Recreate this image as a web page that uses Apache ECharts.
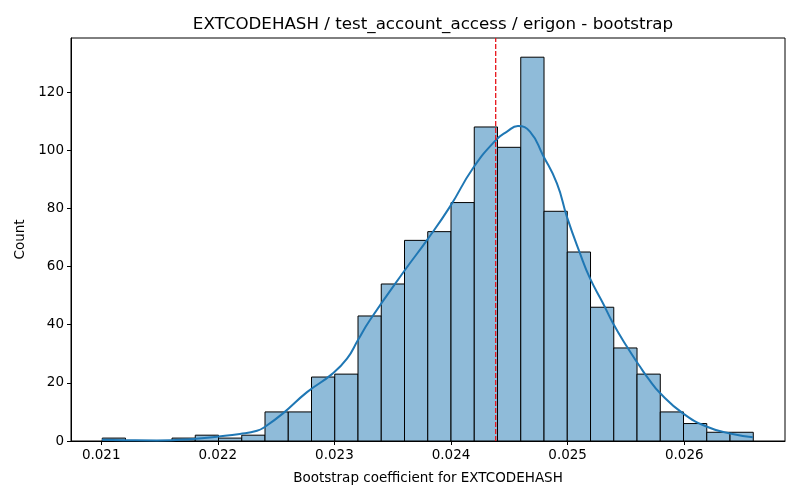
<!DOCTYPE html>
<html>
<head>
<meta charset="utf-8">
<script src="https://cdn.jsdelivr.net/npm/echarts@6/dist/echarts.min.js"></script>
<style>
  html, body { margin: 0; padding: 0; background: #fff; }
  #chart { width: 800px; height: 500px; }
</style>
</head>
<body>
<div id="chart"></div>
<script>
// histogram: 28 equal bins
const binStart = 0.021009;
const binWidth = 0.00019939;
const counts = [1, 0, 0, 1, 2, 1, 2, 10, 10, 22, 23, 43, 54, 69, 72, 82, 108, 101, 132, 79, 65, 46, 32, 23, 10, 6, 3, 3];

// kde curve
const kdeX = [0.021007, 0.021187, 0.021478, 0.021761, 0.021993, 0.022190, 0.022336, 0.022405, 0.022559, 0.022765,
  0.022979, 0.023108, 0.023202, 0.023305, 0.023605, 0.023794, 0.023991, 0.024188, 0.024385, 0.024480,
  0.024574, 0.024677, 0.024788, 0.024908, 0.024994, 0.025106, 0.025191, 0.025303, 0.025389, 0.025509,
  0.025620, 0.025689, 0.025792, 0.025989, 0.026195, 0.026392, 0.026589];
const kdeY = [0.4, 0.3, 0.2, 0.6, 1.5, 2.4, 3.5, 4.9, 9.5, 16.8,
  23.0, 28.3, 34.7, 41.6, 58.8, 69.1, 80.6, 93.8, 103.5, 106.4,
  108.3, 106.4, 98.3, 88.6, 77.1, 64.5, 56, 47.4, 40.5, 32.4,
  25.6, 21.6, 16.5, 9.5, 4.9, 2.6, 1.3];

// observed value (red dashed line)
const observed = 0.024383;

const yMin = 0;
const yMax = 138.6;

const titleText = 'EXTCODEHASH / test_account_access / erigon - bootstrap';
const xLabel = 'Bootstrap coefficient for EXTCODEHASH';
const yLabel = 'Count';

const barData = counts.map((c, i) => [binStart + i * binWidth, binStart + (i + 1) * binWidth, c]);
const kdeData = kdeX.map((x, i) => [x, kdeY[i]]);

const font = 'DejaVu Sans';
const chart = echarts.init(document.getElementById('chart'));
chart.setOption({
  animation: false,
  textStyle: { fontFamily: font },
  title: {
    text: titleText,
    left: 428,
    textAlign: 'center',
    top: 11,
    textStyle: { fontFamily: font, fontSize: 16.7, fontWeight: 'normal', color: '#000' }
  },
  grid: {
    left: 71, right: 15, top: 38, bottom: 59,
    show: true, borderColor: '#000', borderWidth: 1
  },
  xAxis: {
    type: 'value',
    min: 0.020741,
    max: 0.026864,
    splitNumber: 6,
    name: xLabel,
    nameLocation: 'middle',
    nameGap: 30,
    nameTextStyle: { fontFamily: font, fontSize: 13.5, color: '#000' },
    axisLine: { show: true, lineStyle: { color: '#000' } },
    axisTick: { show: true, length: 4, lineStyle: { color: '#000' } },
    axisLabel: {
      fontFamily: font, fontSize: 13.5, color: '#000', margin: 7,
      showMinLabel: false, showMaxLabel: false,
      formatter: v => v.toFixed(3)
    },
    splitLine: { show: false }
  },
  yAxis: {
    type: 'value',
    min: yMin,
    max: yMax,
    interval: 20,
    name: yLabel,
    nameLocation: 'middle',
    nameGap: 42,
    nameTextStyle: { fontFamily: font, fontSize: 13.5, color: '#000' },
    axisLine: { show: true, lineStyle: { color: '#000' } },
    axisTick: { show: true, length: 4, lineStyle: { color: '#000' } },
    axisLabel: { fontFamily: font, fontSize: 13.5, color: '#000', margin: 7, showMaxLabel: false },
    splitLine: { show: false }
  },
  series: [
    {
      type: 'custom',
      data: barData,
      encode: { x: [0, 1], y: 2 },
      renderItem: function (params, api) {
        const p0 = api.coord([api.value(0), 0]);
        const p1 = api.coord([api.value(1), api.value(2)]);
        return {
          type: 'rect',
          shape: { x: p0[0], y: p1[1], width: p1[0] - p0[0], height: p0[1] - p1[1] },
          style: { fill: '#8fbbd9', stroke: '#000', lineWidth: 1 }
        };
      },
      z: 2
    },
    {
      type: 'line',
      data: kdeData,
      smooth: 0.5,
      symbol: 'none',
      lineStyle: { color: '#1f77b4', width: 2 },
      z: 3
    },
    {
      type: 'line',
      data: [[observed, yMin], [observed, yMax]],
      symbol: 'none',
      silent: true,
      lineStyle: { color: '#e8141a', width: 1.3, type: [5, 2] },
      z: 4
    }
  ]
});
</script>
</body>
</html>
